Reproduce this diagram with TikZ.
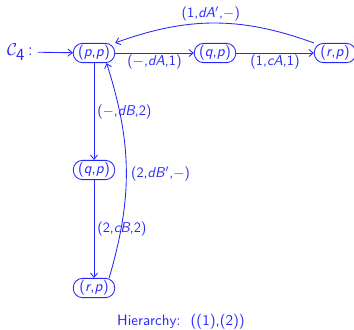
\documentclass[tikz,border=0pt]{standalone}
\usetikzlibrary{arrows.meta}
\definecolor{bl}{rgb}{0.15,0.15,1}
\begin{document}
\begin{tikzpicture}[x=0.7pt,y=-0.7pt,
  every node/.style={text=bl,font=\sffamily\fontsize{10.5}{12}\selectfont},
  st/.style={draw=bl,line width=0.6pt,rounded corners=6.5pt,minimum width=29pt,minimum height=13.5pt,inner sep=1pt},
  ed/.style={draw=bl,line width=0.6pt,-{Straight Barb[length=3pt,width=5pt]}},
  lbl/.style={inner sep=1pt,font=\sffamily\normalsize}]
\useasboundingbox (0,0) rectangle (354,329);
\node[font=\sffamily\large] (c4) at (20,52) {$\mathcal{C}_{\textsf{4}}$\,:};
\node[st] (pp) at (94,53) {(\textit{p},\textit{p})};
\node[st] (qp) at (215,53) {(\textit{q},\textit{p})};
\node[st] (rp) at (335,53) {(\textit{r},\textit{p})};
\node[st] (qp2) at (94,170) {(\textit{q},\textit{p})};
\node[st] (rp2) at (94,288) {(\textit{r},\textit{p})};
\node (h) at (181,322) {Hierarchy:\ \ ((1),(2))};
\draw[ed] (c4) -- (pp);
\draw[ed] (pp) -- node[lbl,below,pos=0.5] {($-$,\textit{dA},1)} (qp);
\draw[ed] (qp) -- node[lbl,below] {(1,\textit{cA},1)} (rp);
\draw[ed] (rp.north west) to[bend right=20] node[lbl,above,pos=0.52] {(1,\textit{dA}$'$,$-$)} (pp.north east);
\draw[ed] (pp) -- node[lbl,right,xshift=1pt] {($-$,\textit{dB},2)} (qp2);
\draw[ed] (qp2) -- node[lbl,right,xshift=1pt] {(2,\textit{cB},2)} (rp2);
\draw[ed] (rp2.north east) ++(-6,0) coordinate (s) (s) to[bend right=17] node[lbl,right,pos=0.48,xshift=2pt] {(2,\textit{dB}$'$,$-$)} ([xshift=-6]pp.south east);
\end{tikzpicture}
\end{document}
